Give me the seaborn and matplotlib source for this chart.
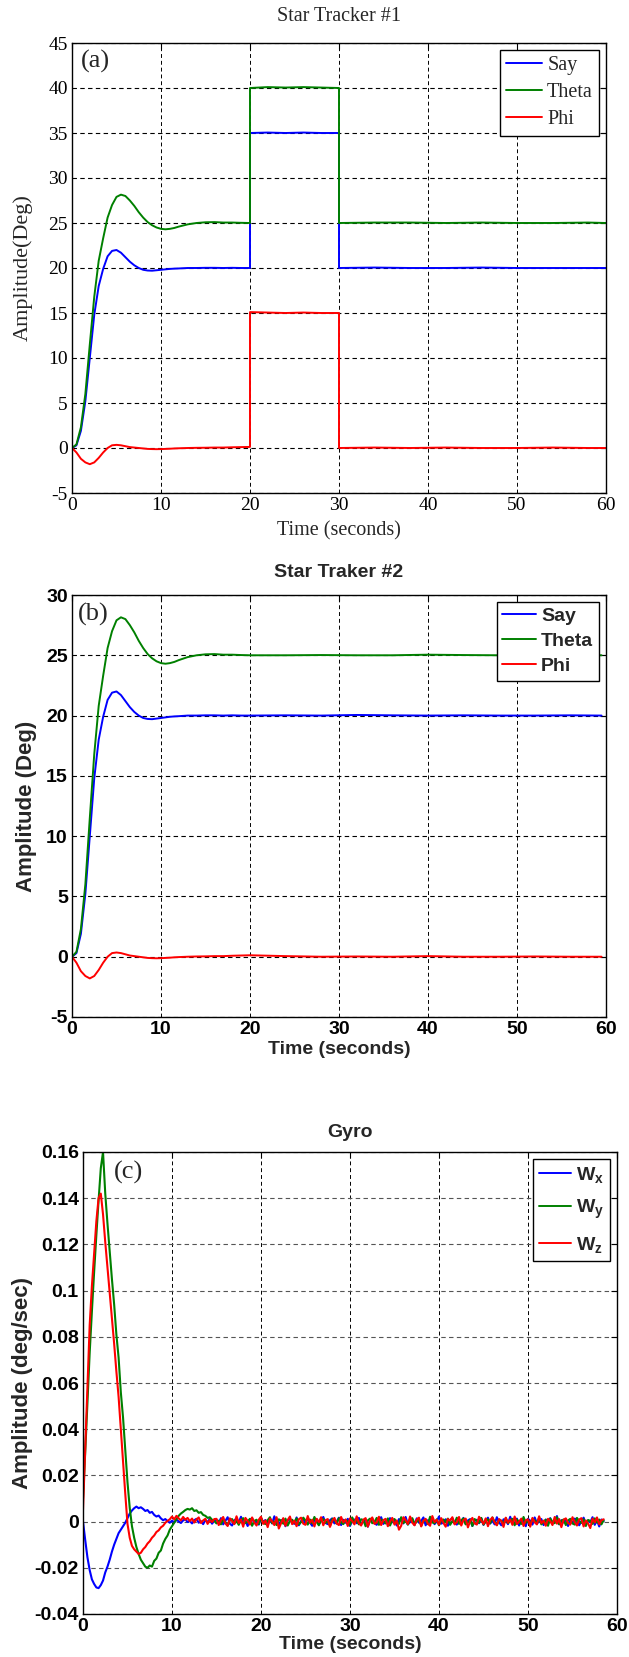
import numpy as np
import pandas as pd
import matplotlib
matplotlib.use("Agg")
import matplotlib.pyplot as plt
from matplotlib import font_manager
import seaborn as sns

# ---------------- attitude angles: first 20 s of the run ----------------
trans_t = [0, 0.5, 1, 1.5, 2, 2.5, 3, 3.5, 4, 4.5, 5, 5.5, 6, 6.5, 7, 7.5,
           8, 8.5, 9, 9.5, 10, 10.5, 11, 11.5, 12, 13, 14, 15, 16, 17, 18, 19, 20]
say_trans = [0, 0.3, 1.9, 5.2, 10.0, 14.8, 18.0, 19.9, 21.3, 21.9, 22.0, 21.7,
             21.2, 20.7, 20.3, 20.0, 19.8, 19.72, 19.7, 19.75, 19.8, 19.85, 19.9,
             19.93, 19.95, 20.0, 20.0, 20.02, 20.02, 20.0, 20.02, 20.0, 20.0]
theta_trans = [0, 0.4, 2.3, 6.0, 11.5, 16.8, 20.8, 23.3, 25.6, 27.0, 27.9, 28.15,
               28.0, 27.5, 26.9, 26.2, 25.6, 25.1, 24.75, 24.5, 24.35, 24.3, 24.35,
               24.45, 24.6, 24.85, 25.0, 25.08, 25.1, 25.05, 25.05, 25.02, 25.0]
phi_trans = [0, -0.5, -1.2, -1.6, -1.8, -1.6, -1.1, -0.5, 0.0, 0.3, 0.35, 0.3,
             0.2, 0.1, 0.05, 0.0, -0.05, -0.1, -0.12, -0.13, -0.12, -0.1, -0.08,
             -0.05, -0.03, 0.0, 0.02, 0.03, 0.05, 0.05, 0.08, 0.1, 0.12]

# Star Tracker #1: commanded step held between 20 s and 30 s
st1_tail_t = [20, 22, 24, 26, 28, 30, 30, 34, 38, 42, 46, 50, 54, 58, 60]
st1_say_tail = [35.0, 35.05, 35.0, 35.05, 35.0, 35.0, 20.0, 20.05, 20.0, 20.0,
                20.05, 20.0, 20.0, 20.0, 20.0]
st1_theta_tail = [40.0, 40.1, 40.05, 40.1, 40.05, 40.0, 25.0, 25.05, 25.05, 25.0,
                  25.05, 25.0, 25.0, 25.05, 25.0]
st1_phi_tail = [15.1, 15.05, 15.0, 15.05, 15.0, 15.0, 0.0, 0.05, 0.0, 0.05, 0.0,
                0.0, 0.05, 0.0, 0.0]

# Star Traker #2: attitude held to the end of the run
st2_tail_t = [24, 28, 32, 36, 40, 44, 48, 52, 56, 59.5]
st2_say_tail = [20.02, 20.0, 20.05, 20.02, 20.0, 20.02, 20.0, 20.0, 20.02, 20.0]
st2_theta_tail = [25.0, 25.02, 25.0, 25.0, 25.05, 25.02, 25.0, 25.0, 25.0, 25.0]
st2_phi_tail = [0.05, 0.0, 0.02, 0.0, 0.05, 0.0, 0.0, 0.02, 0.0, 0.0]

# ---------------- gyro body rates, milli-deg/s, one sample every 0.25 s ----------------
gyro_dt = 0.25
wx_mdps = [
    0, -8, -15.5, -21, -25, -27, -28.5, -28.8, -27.5, -25.5,
    -22, -19.5, -16.5, -13, -10, -7.5, -5, -3.5, -2, -0.5,
    1.5, 3.5, 4.8, 5.8, 6.5, 5.8, 6.2, 5.5, 4.6, 5.0,
    3.8, 4.2, 2.9, 2.2, 2.6, 1.4, 0.6, 1.1, 0.2, -0.5,
    0.4, -0.3, 0.8, 0.1, -0.6, 0.5, 1.0, -0.2, 0.3, -0.8,
    0.6, 1.2, -0.5, 0.2, -1.1, 0.7, -0.3, 1.3, -0.9, 0.4,
    0.8, -0.6, 1.5, -1.2, 0.3, 1.9, -0.9, -1.7, 0.6, 1.2,
    -0.4, 2.1, -1.1, 0.2, -1.9, 0.9, 1.4, -0.7, 0.1, -1.3,
    1.6, -0.2, 0.7, -1.5, 1.1, -0.8, 2.3, -0.5, -1.4, 0.4,
    1.0, -2.0, 0.5, 1.3, -0.3, -1.0, 1.8, -1.6, 0.2, 0.9,
    -0.9, 1.5, -0.4, -1.8, 0.7, 1.1, -1.2, 0.3, 2.0, -0.6,
    -1.1, 0.6, 1.4, -0.8, -0.1, 1.7, -1.5, 0.8, -0.5, 1.2,
    -1.9, 0.4, 0.9, -0.7, 1.6, -1.3, 0.1, 1.0, -2.2, 0.5,
    1.3, -0.6, -1.4, 0.8, 1.9, -1.0, 0.2, -0.9, 1.5, -0.3,
    0.7, -1.7, 1.1, 0.4, -0.8, 2.0, -1.2, -0.2, 0.9, -1.5,
    1.4, -0.5, 0.3, 1.8, -1.6, 0.6, -0.7, 1.2, -1.1, 0.1,
    2.2, -0.9, -0.4, 1.0, -1.8, 0.7, 1.5, -0.6, -1.3, 0.9,
    -0.2, 1.6, -1.0, 0.5, 1.1, -1.9, 0.3, 0.8, -0.7, 1.4,
    -1.4, 0.2, 1.7, -0.8, 0.4, -1.2, 1.9, -0.3, -1.6, 1.0,
    0.6, -1.1, 2.1, -0.5, -0.9, 1.3, -1.7, 0.7, 0.2, -2.0,
    1.2, 0.4, -1.3, 1.8, -0.6, -0.2, 1.1, -1.5, 0.9, -0.8,
    1.5, -1.0, 0.3, 2.4, -1.2, 0.6, -0.4, 1.0, -1.9, 0.5,
    -0.7, 1.3, 0.8, -1.6, 0.1, 1.7, -1.1, 0.4, -0.3, 1.9,
    -1.4, 0.6, -2.1, 0.9, 0.2,
]
wy_mdps = [
    10, 30, 51, 73, 91, 108, 124, 139, 153, 160,
    142, 129, 117, 105, 94, 81, 71, 56, 45, 31,
    17, 6, -2, -7, -11, -14, -16.5, -18, -19.5, -20,
    -19, -19.5, -17, -16, -13.5, -12.5, -9.5, -7.5, -6, -3.5,
    -2, -0.5, 1.0, 2.5, 3.5, 4.2, 5.0, 5.5, 5.2, 5.8,
    4.6, 4.9, 3.8, 4.1, 2.9, 2.5, 1.6, 1.9, 0.8, 0.3,
    -0.8, 0.4, -1.2, 0.9, -0.3, -1.6, 0.5, 1.1, -0.9, 0.2,
    -1.4, 0.7, 1.5, -0.6, -0.1, 1.2, -1.8, 0.3, 0.8, -1.0,
    1.6, -0.4, -1.1, 0.6, 1.9, -0.7, 0.1, -1.5, 1.0, 0.4,
    -0.9, 1.3, -1.7, 0.2, 0.8, -0.5, 1.4, -1.2, -0.2, 1.7,
    0.5, -1.3, 0.9, -0.8, 2.0, -0.1, -1.6, 0.7, 1.1, -0.6,
    0.3, -1.9, 1.2, 0.6, -0.9, 1.5, -0.4, -1.1, 0.8, 0.1,
    -1.5, 1.8, -0.3, 0.4, -1.2, 1.0, 0.7, -2.0, 0.5, 1.3,
    -0.7, -0.2, 1.6, -1.4, 0.9, 0.2, -0.8, 1.4, -1.7, 0.6,
    1.1, -0.5, -1.0, 1.9, -0.6, 0.3, -1.3, 0.8, 1.5, -0.9,
    -0.1, 1.2, -1.8, 0.4, 0.7, -1.1, 2.1, -0.4, -0.7, 1.0,
    -1.6, 0.5, 0.9, -0.3, 1.3, -1.4, 0.2, -0.6, 1.7, -1.0,
    0.6, 1.4, -1.2, -0.4, 0.8, -1.9, 1.1, 0.3, -0.5, 1.6,
    -1.3, 0.1, 1.0, -0.8, 1.8, -0.2, -1.5, 0.7, 0.4, -1.1,
    1.5, -0.7, 0.2, 1.2, -1.6, 0.9, -0.3, -1.0, 2.0, -0.5,
    0.3, -1.4, 1.1, 0.6, -0.9, 1.7, -1.2, 0.0, 0.8, -1.8,
    1.3, -0.1, -0.7, 1.9, -1.1, 0.4, 0.9, -1.5, 0.5, 1.2,
    -0.8, -1.3, 1.6, 0.2, -0.6, 1.0, -1.9, 0.7, 0.3, -1.0,
    1.4, -0.4, 0.9, -1.2, 0.6,
]
wz_mdps = [
    5, 32, 60, 85, 102, 116, 130, 140, 142, 133,
    121, 110, 99, 88, 77, 65, 54, 40, 26, 12,
    -1, -7, -10.5, -12, -13, -14, -13.5, -12, -11, -9.5,
    -8.5, -7, -6, -4.5, -3.8, -2.5, -1.8, -0.5, 0.3, 1.0,
    2.2, 1.0, 2.5, 1.4, 0.5, 2.0, 0.8, 1.6, 0.2, 1.3,
    -0.4, 0.9, 1.8, -0.6, 0.5, 1.2, -1.0, 0.7, -0.2, 1.1,
    1.2, -1.5, 0.6, 2.0, -0.8, -1.9, 1.4, 0.2, -1.1, 2.3,
    -0.6, 0.9, -2.2, 1.6, 0.3, -1.3, 1.8, -0.4, -1.7, 0.8,
    2.1, -1.0, 0.5, -2.4, 1.3, 0.1, -1.5, 1.9, -3.0, -0.7,
    1.5, -1.8, 0.7, 2.2, -1.1, 0.4, -2.0, 1.0, 1.7, -0.9,
    -1.4, 2.4, -0.5, 0.8, -2.1, 1.2, -0.2, 1.9, -1.6, 0.6,
    1.1, -2.3, 0.3, 1.6, -0.8, -1.5, 2.0, -0.3, 0.9, -1.9,
    1.4, 0.2, -1.2, 2.3, -0.6, -1.7, 0.8, 1.5, -2.2, 0.4,
    1.8, -1.0, -0.4, 2.1, -1.5, 0.6, 1.2, -2.0, 0.1, 1.6,
    -1.3, 0.5, -3.5, -1.8, 1.9, 0.7, -1.1, 2.2, -0.5, -1.6,
    0.9, 1.7, -2.1, 0.3, 1.2, -0.9, -1.8, 2.4, -0.2, 0.8,
    -1.4, 1.5, -0.6, -2.2, 1.1, 0.4, 1.9, -1.2, -0.3, 2.0,
    -1.7, 0.6, 1.3, -2.5, 0.2, 1.6, -0.8, -1.3, 2.1, 0.5,
    -1.0, 1.4, -2.0, 0.7, 1.8, -0.4, -1.6, 1.1, 0.3, -2.3,
    1.7, -0.5, 0.9, -1.4, 2.2, -1.1, 0.0, 1.3, -1.9, 0.6,
    1.0, -2.2, 1.6, -0.3, -1.2, 2.3, -0.7, 0.4, -1.8, 1.2,
    0.2, -1.5, 2.0, -0.9, 1.1, -2.4, 0.8, 1.4, -0.6, -1.3,
    1.9, -0.2, -1.7, 0.9, 1.5, -2.1, 0.5, -0.8, -2.8, 1.3,
    -0.4, 1.8, -1.2, 0.6, 1.0,
]

# ---------------- axis ticks ----------------
time_ticks = [0, 10, 20, 30, 40, 50, 60]
st1_yticks = [-5, 0, 5, 10, 15, 20, 25, 30, 35, 40, 45]
st2_yticks = [-5, 0, 5, 10, 15, 20, 25, 30]
gyro_yticks = [-0.04, -0.02, 0, 0.02, 0.04, 0.06, 0.08, 0.1, 0.12, 0.14, 0.16]

angle_names = ["Say", "Theta", "Phi"]
rate_names = [r"$\mathbf{W_x}$", r"$\mathbf{W_y}$", r"$\mathbf{W_z}$"]
line_colors = ["#0000ff", "#008000", "#ff0000"]

# ---------------- style ----------------
sns.set_theme(style="white")
SERIF = "Liberation Serif"
SANS = "Liberation Sans"
installed = {f.name for f in font_manager.fontManager.ttflist}
if "Liberation Sans Narrow" in installed:
    BOLD, BOLD_SIZE = "Liberation Sans Narrow", 16.5
else:
    BOLD, BOLD_SIZE = SANS, 14

plt.rcParams.update({
    "font.family": [SANS, "DejaVu Sans"],
    "axes.unicode_minus": False,
    "mathtext.fontset": "custom",
    "mathtext.bf": f"{BOLD}:bold",
    "mathtext.rm": f"{BOLD}:bold",
    "mathtext.it": f"{BOLD}:bold",
})


def num_label(v):
    v = round(v, 6)
    if abs(v) < 1e-12:
        return "0"
    return f"{v:g}"


def long_frame(t, series, names):
    rows = []
    for vals, name in zip(series, names):
        rows.append(pd.DataFrame({"time": t, "value": vals, "signal": name}))
    return pd.concat(rows, ignore_index=True)


W, H = 629, 1657
fig = plt.figure(figsize=(W / 100, H / 100), dpi=100)


def axes_px(left, top, right, bottom):
    return fig.add_axes([left / W, 1 - bottom / H, (right - left) / W, (bottom - top) / H])


def frame_axes(ax, xt, yt, ylim, font, weight, size, hgrid_color="black"):
    ax.set_xlim(0, 60)
    ax.set_ylim(*ylim)
    ax.set_xticks(xt, labels=[num_label(v) for v in xt], fontfamily=font,
                  fontweight=weight, fontsize=size)
    ax.set_yticks(yt, labels=[num_label(v) for v in yt], fontfamily=font,
                  fontweight=weight, fontsize=size)
    ax.tick_params(direction="in", top=True, right=True, length=4, width=0.8,
                   colors="black", pad=3)
    ax.set_axisbelow(True)
    ax.xaxis.grid(True, color="black", linestyle=(0, (4, 3)), linewidth=0.7)
    ax.yaxis.grid(True, color=hgrid_color, linestyle=(0, (4, 3)), linewidth=0.8)
    for sp in ax.spines.values():
        sp.set_color("black")
        sp.set_linewidth(1.0)
        sp.set_visible(True)
    ax.set_facecolor("white")


def draw_lines(ax, df, names, lw=1.4):
    for name, col in zip(names, line_colors):
        part = df[df["signal"] == name]
        sns.lineplot(data=part, x="time", y="value", ax=ax, color=col,
                     linewidth=lw, estimator=None, sort=False, label=name)


def legend_box(ax, font, weight, size, labelspacing, handlelength):
    leg = ax.legend(loc="upper right", prop={"family": font, "weight": weight, "size": size},
                    frameon=True, fancybox=False, shadow=False, framealpha=1,
                    edgecolor="black", handlelength=handlelength, handletextpad=0.25,
                    labelspacing=labelspacing, borderpad=0.3, borderaxespad=0.35)
    leg.get_frame().set_linewidth(1.0)
    for h in leg.get_lines():
        h.set_linewidth(1.4)


# ---------------- (a) Star Tracker #1 ----------------
ax_a = axes_px(72, 43, 606, 493)
st1_t = trans_t + st1_tail_t
df_a = long_frame(st1_t, [say_trans + st1_say_tail, theta_trans + st1_theta_tail,
                          phi_trans + st1_phi_tail], angle_names)
draw_lines(ax_a, df_a, angle_names)
frame_axes(ax_a, time_ticks, st1_yticks, (-5, 45), SERIF, "normal", 14)
ax_a.set_title("Star Tracker #1", fontfamily=SERIF, fontsize=14.5, pad=16)
ax_a.set_xlabel("Time (seconds)", fontfamily=SERIF, fontsize=14.5)
ax_a.set_ylabel("Amplitude(Deg)", fontfamily=SERIF, fontsize=16)
ax_a.xaxis.set_label_coords(0.5, -0.062)
ax_a.yaxis.set_label_coords(-0.073, 0.5)
ax_a.text(0.043, 0.958, "(a)", transform=ax_a.transAxes, ha="center", va="center",
          fontfamily=SERIF, fontsize=19)
legend_box(ax_a, SERIF, "normal", 14.5, 0.4, 1.8)

# ---------------- (b) Star Traker #2 ----------------
ax_b = axes_px(72, 595, 606, 1017)
st2_t = trans_t + st2_tail_t
df_b = long_frame(st2_t, [say_trans + st2_say_tail, theta_trans + st2_theta_tail,
                          phi_trans + st2_phi_tail], angle_names)
draw_lines(ax_b, df_b, angle_names)
frame_axes(ax_b, time_ticks, st2_yticks, (-5, 30), BOLD, "bold", BOLD_SIZE)
ax_b.set_title("Star Traker #2", fontfamily=BOLD, fontweight="bold", fontsize=BOLD_SIZE, pad=13)
ax_b.set_xlabel("Time (seconds)", fontfamily=BOLD, fontweight="bold", fontsize=BOLD_SIZE)
ax_b.set_ylabel("Amplitude (Deg)", fontfamily=SANS, fontweight="bold", fontsize=16)
ax_b.xaxis.set_label_coords(0.5, -0.058)
ax_b.yaxis.set_label_coords(-0.066, 0.5)
ax_b.text(0.039, 0.953, "(b)", transform=ax_b.transAxes, ha="center", va="center",
          fontfamily=SERIF, fontsize=19)
legend_box(ax_b, BOLD, "bold", BOLD_SIZE, 0.38, 1.75)

# ---------------- (c) Gyro ----------------
ax_c = axes_px(83, 1152, 617, 1614)
rates = [np.array(wx_mdps) / 1000.0, np.array(wy_mdps) / 1000.0, np.array(wz_mdps) / 1000.0]
gyro_frames = []
for vals, name in zip(rates, rate_names):
    t = gyro_dt * np.arange(len(vals))
    gyro_frames.append(pd.DataFrame({"time": t, "value": vals, "signal": name}))
df_c = pd.concat(gyro_frames, ignore_index=True)
draw_lines(ax_c, df_c, rate_names, lw=1.5)
frame_axes(ax_c, time_ticks, gyro_yticks, (-0.04, 0.16), BOLD, "bold", BOLD_SIZE,
           hgrid_color="#555555")
ax_c.set_title("Gyro", fontfamily=BOLD, fontweight="bold", fontsize=BOLD_SIZE, pad=11)
ax_c.set_xlabel("Time (seconds)", fontfamily=BOLD, fontweight="bold", fontsize=BOLD_SIZE)
ax_c.set_ylabel("Amplitude (deg/sec)", fontfamily=SANS, fontweight="bold", fontsize=16)
ax_c.xaxis.set_label_coords(0.5, -0.048)
ax_c.yaxis.set_label_coords(-0.094, 0.5)
ax_c.text(0.086, 0.956, "(c)", transform=ax_c.transAxes, ha="center", va="center",
          fontfamily=SERIF, fontsize=19)
legend_box(ax_c, BOLD, "bold", BOLD_SIZE, 0.69, 1.65)

fig.savefig("out.png", dpi=100, facecolor="white")
